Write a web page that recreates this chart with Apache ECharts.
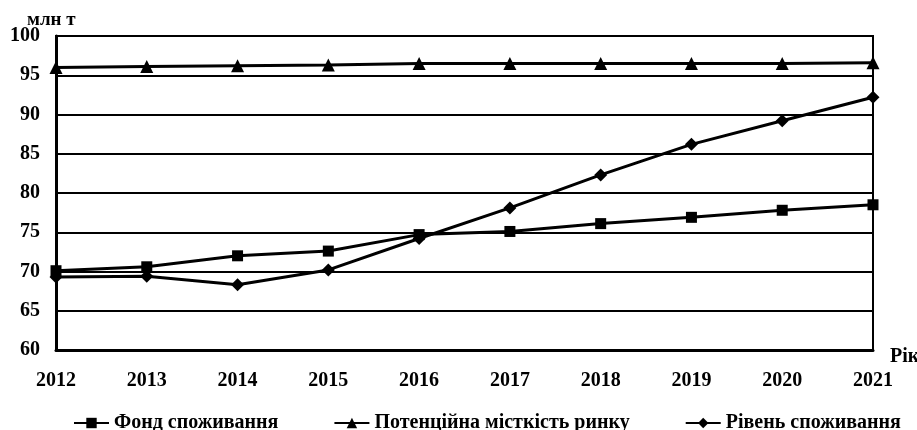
<!DOCTYPE html>
<html>
<head>
<meta charset="utf-8">
<script src="https://cdn.jsdelivr.net/npm/echarts@6/dist/echarts.min.js"></script>
<style>
  html, body { margin: 0; padding: 0; background: #fff; }
  #chart { width: 917px; height: 430px; }
</style>
</head>
<body>
<div id="chart"></div>
<script>
// === Données ===
const annees = ["2012", "2013", "2014", "2015", "2016", "2017", "2018", "2019", "2020", "2021"];
const fondSpozhyvannia = [70.1, 70.6, 72.0, 72.6, 74.7, 75.1, 76.1, 76.9, 77.8, 78.5];
const potentsiinaMistkist = [96.0, 96.1, 96.2, 96.3, 96.5, 96.5, 96.5, 96.5, 96.5, 96.6];
const rivenSpozhyvannia = [69.3, 69.4, 68.3, 70.2, 74.2, 78.1, 82.3, 86.2, 89.2, 92.2];

const police = "'Liberation Serif', 'Times New Roman', serif";

const chart = echarts.init(document.getElementById("chart"));

function serie(nom, data, symbole, taille) {
  return {
    name: nom,
    type: "line",
    data: data,
    symbol: symbole,
    symbolSize: taille,
    lineStyle: { color: "#000", width: 3 },
    itemStyle: { color: "#000" },
    emphasis: { disabled: true }
  };
}

const option = {
  backgroundColor: "#fff",
  animation: false,
  textStyle: { fontFamily: police },
  grid: {
    left: 56, right: 44, top: 36, bottom: 80,
    show: true, borderColor: "#000", borderWidth: 2
  },
  legend: {
    left: 68, top: 408,
    itemWidth: 35, itemHeight: 13, itemGap: 55,
    textStyle: { fontFamily: police, fontWeight: "bold", fontSize: 20, color: "#000" },
    data: ["Фонд споживання", "Потенційна місткість ринку", "Рівень споживання"]
  },
  xAxis: {
    type: "category",
    data: annees,
    boundaryGap: false,
    axisLine: { lineStyle: { color: "#000", width: 3 } },
    axisTick: { show: false },
    axisLabel: { color: "#000", fontFamily: police, fontWeight: "bold", fontSize: 20, margin: 21 },
    splitLine: { show: false }
  },
  yAxis: {
    type: "value",
    min: 60, max: 100, interval: 5,
    axisLine: { show: true, lineStyle: { color: "#000", width: 3 } },
    axisTick: { show: false },
    axisLabel: { color: "#000", fontFamily: police, fontWeight: "bold", fontSize: 20, margin: 16 },
    splitLine: { lineStyle: { color: "#000", width: 2 } }
  },
  graphic: [
    {
      type: "text", left: 27, top: 11,
      style: { text: "млн т", fill: "#000", font: "bold 19px " + police }
    },
    {
      type: "text", left: 890, top: 347,
      style: { text: "Рік", fill: "#000", font: "bold 20px " + police }
    }
  ],
  series: [
    serie("Фонд споживання", fondSpozhyvannia, "rect", 11),
    serie("Потенційна місткість ринку", potentsiinaMistkist, "triangle", 13),
    serie("Рівень споживання", rivenSpozhyvannia, "diamond", 13)
  ]
};

chart.setOption(option);
</script>
</body>
</html>
